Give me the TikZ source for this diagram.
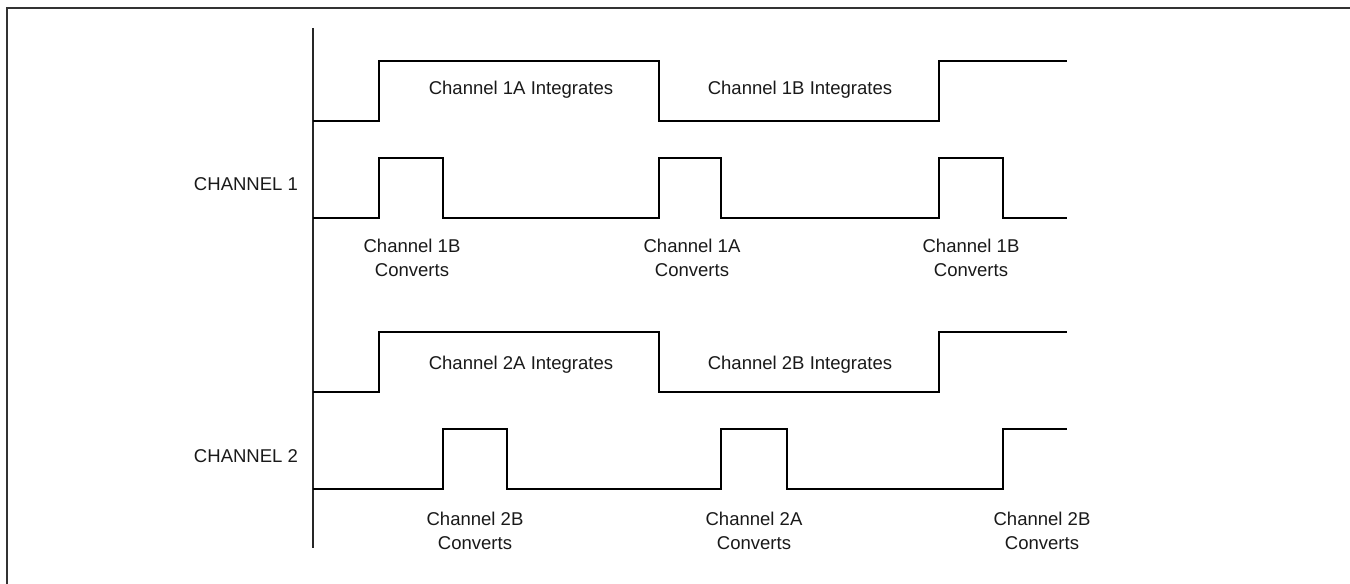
\documentclass[tikz,border=0pt]{standalone}
\usepackage{fontspec}
\setmainfont{Liberation Sans}
\begin{document}
\begin{tikzpicture}[x=0.75pt,y=-0.75pt,
  wave/.style={line width=1.6pt, line join=miter, black},
  axisline/.style={line width=0.8pt, black!85},
  frameline/.style={line width=1.6pt, black!80},
  lbl/.style={inner sep=0pt, font=\fontsize{13.9}{18}\selectfont, align=center, text=black!90}]
\useasboundingbox (0,0) rectangle (1350,584);
% frame (top and left edges visible)
\draw[frameline] (7,600) -- (7,8) -- (1360,8);
% time axis
\coordinate (axtop) at (313,28);
\coordinate (axbot) at (313,548);
\draw[axisline] (axtop) -- (axbot);
% Channel 1 integrate waveform
\draw[wave] (313,121) -- (379,121) -- (379,61) -- (659,61) -- (659,121) -- (939,121) -- (939,61) -- (1067,61);
% Channel 1 convert waveform
\draw[wave] (313,218) -- (379,218) -- (379,158) -- (443,158) -- (443,218) -- (659,218) -- (659,158) -- (721,158) -- (721,218) -- (939,218) -- (939,158) -- (1003,158) -- (1003,218) -- (1067,218);
% Channel 2 integrate waveform
\draw[wave] (313,392) -- (379,392) -- (379,332) -- (659,332) -- (659,392) -- (939,392) -- (939,332) -- (1067,332);
% Channel 2 convert waveform
\draw[wave] (313,489) -- (443,489) -- (443,429) -- (507,429) -- (507,489) -- (721,489) -- (721,429) -- (787,429) -- (787,489) -- (1003,489) -- (1003,429) -- (1067,429);
% labels
\node[lbl] (ch1) at (246,184) {CHANNEL 1};
\node[lbl] (ch2) at (246,456) {CHANNEL 2};
\node[lbl] (i1a) at (521,90) {Channel 1A Integrates};
\node[lbl] (i1b) at (800,90) {Channel 1B Integrates};
\node[lbl] (c1b) at (412,258) {Channel 1B\\Converts};
\node[lbl] (c1a) at (692,258) {Channel 1A\\Converts};
\node[lbl] (c1b2) at (971,258) {Channel 1B\\Converts};
\node[lbl] (i2a) at (521,365) {Channel 2A Integrates};
\node[lbl] (i2b) at (800,365) {Channel 2B Integrates};
\node[lbl] (c2b) at (475,531) {Channel 2B\\Converts};
\node[lbl] (c2a) at (754,531) {Channel 2A\\Converts};
\node[lbl] (c2b2) at (1042,531) {Channel 2B\\Converts};
\end{tikzpicture}
\end{document}
